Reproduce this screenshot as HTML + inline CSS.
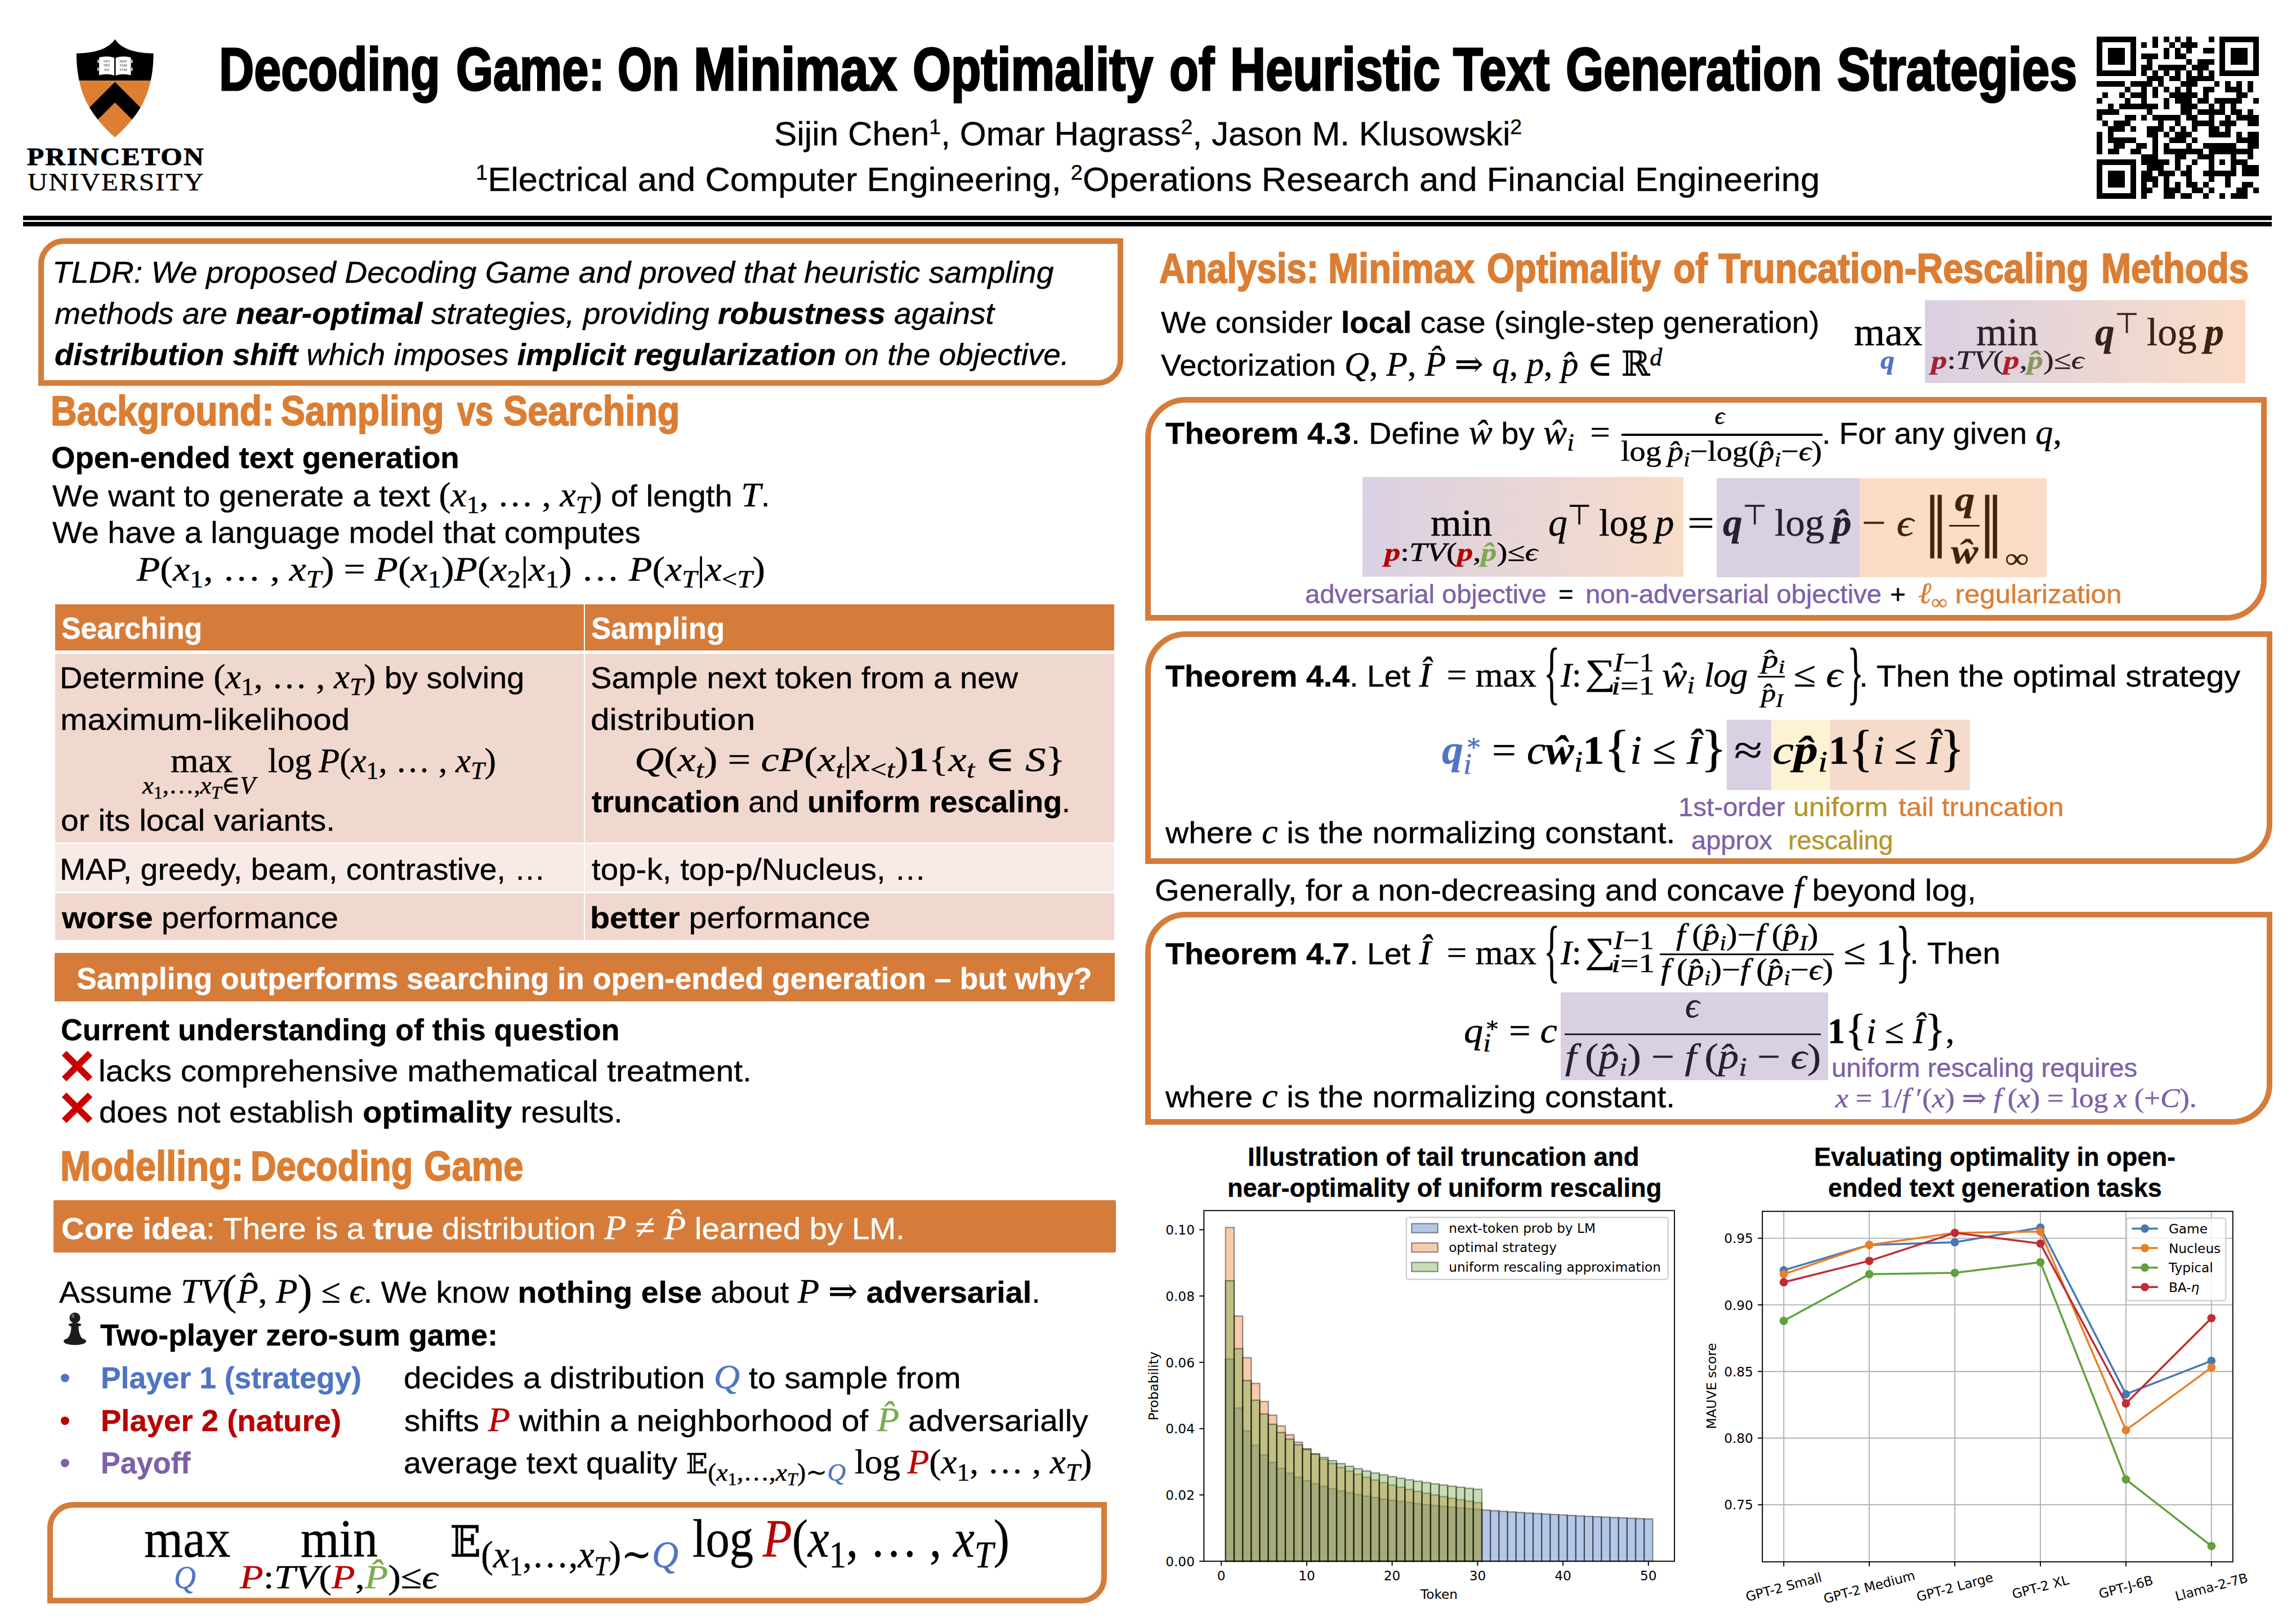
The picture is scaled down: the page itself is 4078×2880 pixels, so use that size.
<!DOCTYPE html>
<html lang="en"><head><meta charset="utf-8"><title>Decoding Game poster</title>
<style>
html,body{margin:0;padding:0;background:#fff;}
body{width:4078px;height:2880px;position:relative;overflow:hidden;font-family:"Liberation Sans", sans-serif;color:#000;}
.t{position:absolute;white-space:nowrap;transform-origin:0 0;line-height:1.2;}
.bm{display:inline-block;width:0;height:0;}
.m{font-family:"Liberation Serif", "DejaVu Serif", "DejaVu Math TeX Gyre", "DejaVu Sans", serif;font-style:italic;}
.r{font-family:"Liberation Serif", "DejaVu Serif", "DejaVu Math TeX Gyre", "DejaVu Sans", serif;font-style:normal;}
.ri{font-family:"Liberation Serif", "DejaVu Serif", "DejaVu Math TeX Gyre", "DejaVu Sans", serif;font-style:normal;font-size:113%;}
.r,.ri{-webkit-text-stroke:0.5px;}
.s{font-family:"Liberation Sans", sans-serif;font-style:normal;}
.sb{font-size:72%;position:relative;top:0.28em;}
.sp{font-size:72%;position:relative;top:-0.42em;}
b{font-weight:bold;}
.fsans{font-family:"Liberation Sans", sans-serif;-webkit-text-stroke:0.4px;}
.fserif{font-family:"Liberation Serif", "DejaVu Serif", "DejaVu Math TeX Gyre", "DejaVu Sans", serif;}
.fdjv{font-family:"DejaVu Sans", sans-serif;}
</style></head><body>
<div style="position:absolute;left:41.0px;top:383.0px;width:3994.0px;height:7.5px;background:#000;"></div>
<div style="position:absolute;left:41.0px;top:394.0px;width:3994.0px;height:7.6px;background:#000;"></div>
<div style="position:absolute;box-sizing:border-box;left:67.5px;top:423.0px;width:1927.5px;height:262.0px;border:10px solid #D57C3B;border-radius:46px 0 46px 0;"></div>
<div style="position:absolute;left:97.8px;top:1073.3px;width:939.0px;height:81.5px;background:#D57C3B;"></div>
<div style="position:absolute;left:1038.8px;top:1073.3px;width:939.9px;height:81.5px;background:#D57C3B;"></div>
<div style="position:absolute;left:97.8px;top:1160.6px;width:939.0px;height:335.0px;background:#F1D8CF;"></div>
<div style="position:absolute;left:1038.8px;top:1160.6px;width:939.9px;height:335.0px;background:#F1D8CF;"></div>
<div style="position:absolute;left:97.8px;top:1498.2px;width:939.0px;height:85.3px;background:#F8EBE7;"></div>
<div style="position:absolute;left:1038.8px;top:1498.2px;width:939.9px;height:85.3px;background:#F8EBE7;"></div>
<div style="position:absolute;left:97.8px;top:1585.7px;width:939.0px;height:83.1px;background:#F1D8CF;"></div>
<div style="position:absolute;left:1038.8px;top:1585.7px;width:939.9px;height:83.1px;background:#F1D8CF;"></div>
<div style="position:absolute;left:96.9px;top:1692.3px;width:1882.7px;height:86.2px;background:#D57C3B;"></div>
<div style="position:absolute;left:94.6px;top:2131.0px;width:1887.6px;height:93.3px;background:#D57C3B;border-radius:3px;"></div>
<div style="position:absolute;box-sizing:border-box;left:83.5px;top:2666.5px;width:1882.7px;height:180.8px;border:10px solid #D57C3B;border-radius:46px 0 46px 0;"></div>
<div style="position:absolute;box-sizing:border-box;left:2033.5px;top:705.0px;width:1992.5px;height:396.5px;border:10px solid #D57C3B;border-radius:72px 0 72px 0;"></div>
<div style="position:absolute;left:2879.9px;top:770.4px;width:356.7px;height:3.2px;background:#000;"></div>
<div style="position:absolute;left:2420.2px;top:847.0px;width:569.8px;height:177.0px;background:linear-gradient(90deg,#D9D0E3,#F8DCC9);"></div>
<div style="position:absolute;left:3462.4px;top:931.6px;width:54.0px;height:3.2px;background:#000;"></div>
<div style="position:absolute;box-sizing:border-box;left:2033.5px;top:1121.0px;width:2002.5px;height:413.3px;border:10px solid #D57C3B;border-radius:72px 0 72px 0;"></div>
<div style="position:absolute;left:3122.0px;top:1199.7px;width:47.6px;height:3.0px;background:#000;"></div>
<div style="position:absolute;left:3067.0px;top:1278.4px;width:78.5px;height:124.4px;background:#D9D0E3;"></div>
<div style="position:absolute;left:3145.5px;top:1278.4px;width:104.7px;height:124.4px;background:#FDF3D4;"></div>
<div style="position:absolute;left:3250.2px;top:1278.4px;width:248.4px;height:124.4px;background:#F6DBCA;"></div>
<div style="position:absolute;box-sizing:border-box;left:2033.5px;top:1618.6px;width:2002.5px;height:378.6px;border:10px solid #D57C3B;border-radius:72px 0 72px 0;"></div>
<div style="position:absolute;left:2948.2px;top:1692.6px;width:309.1px;height:3.1px;background:#000;"></div>
<div style="position:absolute;left:2779.3px;top:1834.5px;width:455.1px;height:3.1px;background:#000;"></div>
<svg style="position:absolute;left:120px;top:60px" width="170" height="200" viewBox="120 60 170 200">
<defs><clipPath id="sh"><path d="M204.2 69.7 Q188 94 135.9 94.8 C135.5 120 140 160 158.5 190 C170 210 190 232 204.2 243.9 C218.4 232 238.4 210 249.9 190 C268.4 160 272.9 120 272.5 94.8 Q220.4 94 204.2 69.7Z"/></clipPath></defs>
<g clip-path="url(#sh)"><rect x="120" y="60" width="170" height="83.2" fill="#000"/><rect x="120" y="143.2" width="170" height="110" fill="#DD7F32"/>
<polygon points="204.2,145.6 124.2,225.6 124.2,261.9 204.2,181.9 284.2,261.9 284.2,225.6" fill="#000"/></g>
<path d="M176 102 Q190 98.5 203 102.5 L203 134 Q190 130 176 133.5Z M232.5 102 Q218.5 98.5 205.5 102.5 L205.5 134 Q218.5 130 232.5 133.5Z" fill="#fff"/>
<path d="M173.3 106h2v6h-2z M173.3 120h2v6h-2z M233.3 106h2v6h-2z M233.3 120h2v6h-2z" fill="#fff"/>
<g font-family="Liberation Serif, serif" font-size="6.2" fill="#111" text-anchor="middle"><text x="189.5" y="110.5">VET</text><text x="189.5" y="118">TES</text><text x="189.5" y="125.5">EN</text><text x="219" y="110.5">NOV</text><text x="219" y="118">TAM</text><text x="219" y="125.5">TVM</text></g>
</svg>
<svg style="position:absolute;left:110px;top:1866.3px" width="54" height="54" viewBox="0 0 54 54"><path d="M4 4L50 50M50 4L4 50" stroke="#C90000" stroke-width="11.5" fill="none"/></svg>
<svg style="position:absolute;left:110px;top:1939.8px" width="54" height="54" viewBox="0 0 54 54"><path d="M4 4L50 50M50 4L4 50" stroke="#C90000" stroke-width="11.5" fill="none"/></svg>
<svg style="position:absolute;left:108px;top:2326px" width="50" height="66" viewBox="108 2326 50 66"><g fill="#1c1c1c"><circle cx="133" cy="2340" r="9.6"/><ellipse cx="133" cy="2352.3" rx="11.5" ry="3.4"/><path d="M126.5 2353H139.5Q138.5 2368 147 2378H119Q127.500 2368 126.500 2353Z"/><ellipse cx="133" cy="2381.500" rx="20" ry="6.8"/></g><ellipse cx="129.500" cy="2336.500" rx="2.6" ry="3.4" fill="#666"/></svg>
<svg style="position:absolute;left:2020px;top:2140px" width="1000" height="740" viewBox="2020 2140 1000 740" font-family="DejaVu Sans, sans-serif" font-size="23.2" fill="#000"><g fill="#4472C4" fill-opacity="0.4" stroke="#000" stroke-opacity="0.4" stroke-width="2.32"><rect x="2176.8" y="2413.1" width="15.2" height="359.0"/><rect x="2192.0" y="2500.1" width="15.2" height="272.0"/><rect x="2207.1" y="2540.8" width="15.2" height="231.3"/><rect x="2222.3" y="2565.9" width="15.2" height="206.2"/><rect x="2237.5" y="2583.5" width="15.2" height="188.6"/><rect x="2252.6" y="2596.8" width="15.2" height="175.3"/><rect x="2267.8" y="2607.3" width="15.2" height="164.8"/><rect x="2283.0" y="2615.8" width="15.2" height="156.3"/><rect x="2298.2" y="2623.0" width="15.2" height="149.1"/><rect x="2313.3" y="2629.2" width="15.2" height="142.9"/><rect x="2328.5" y="2634.5" width="15.2" height="137.6"/><rect x="2343.7" y="2639.2" width="15.2" height="132.9"/><rect x="2358.8" y="2643.4" width="15.2" height="128.7"/><rect x="2374.0" y="2647.2" width="15.2" height="124.9"/><rect x="2389.2" y="2650.6" width="15.2" height="121.5"/><rect x="2404.4" y="2653.7" width="15.2" height="118.4"/><rect x="2419.5" y="2656.5" width="15.2" height="115.6"/><rect x="2434.7" y="2659.1" width="15.2" height="113.0"/><rect x="2449.9" y="2661.6" width="15.2" height="110.5"/><rect x="2465.1" y="2663.8" width="15.2" height="108.3"/><rect x="2480.2" y="2665.9" width="15.2" height="106.2"/><rect x="2495.4" y="2667.8" width="15.2" height="104.3"/><rect x="2510.6" y="2669.7" width="15.2" height="102.4"/><rect x="2525.7" y="2671.4" width="15.2" height="100.7"/><rect x="2540.9" y="2673.0" width="15.2" height="99.1"/><rect x="2556.1" y="2674.6" width="15.2" height="97.5"/><rect x="2571.3" y="2676.0" width="15.2" height="96.1"/><rect x="2586.4" y="2677.4" width="15.2" height="94.7"/><rect x="2601.6" y="2678.8" width="15.2" height="93.3"/><rect x="2616.8" y="2680.0" width="15.2" height="92.1"/><rect x="2631.9" y="2681.2" width="15.2" height="90.9"/><rect x="2647.1" y="2682.4" width="15.2" height="89.7"/><rect x="2662.3" y="2683.5" width="15.2" height="88.6"/><rect x="2677.5" y="2684.5" width="15.2" height="87.6"/><rect x="2692.6" y="2685.5" width="15.2" height="86.6"/><rect x="2707.8" y="2686.5" width="15.2" height="85.6"/><rect x="2723.0" y="2687.4" width="15.2" height="84.7"/><rect x="2738.1" y="2688.3" width="15.2" height="83.8"/><rect x="2753.3" y="2689.2" width="15.2" height="82.9"/><rect x="2768.5" y="2690.0" width="15.2" height="82.1"/><rect x="2783.7" y="2690.8" width="15.2" height="81.3"/><rect x="2798.8" y="2691.6" width="15.2" height="80.5"/><rect x="2814.0" y="2692.4" width="15.2" height="79.7"/><rect x="2829.2" y="2693.1" width="15.2" height="79.0"/><rect x="2844.4" y="2693.8" width="15.2" height="78.3"/><rect x="2859.5" y="2694.5" width="15.2" height="77.6"/><rect x="2874.7" y="2695.1" width="15.2" height="77.0"/><rect x="2889.9" y="2695.8" width="15.2" height="76.3"/><rect x="2905.0" y="2696.4" width="15.2" height="75.7"/><rect x="2920.2" y="2697.0" width="15.2" height="75.1"/></g><g fill="#ED7D31" fill-opacity="0.4" stroke="#000" stroke-opacity="0.4" stroke-width="2.32"><rect x="2176.8" y="2179.5" width="15.2" height="592.6"/><rect x="2192.0" y="2336.8" width="15.2" height="435.3"/><rect x="2207.1" y="2410.7" width="15.2" height="361.4"/><rect x="2222.3" y="2456.4" width="15.2" height="315.7"/><rect x="2237.5" y="2488.5" width="15.2" height="283.6"/><rect x="2252.6" y="2512.7" width="15.2" height="259.4"/><rect x="2267.8" y="2531.9" width="15.2" height="240.2"/><rect x="2283.0" y="2547.6" width="15.2" height="224.5"/><rect x="2298.2" y="2560.8" width="15.2" height="211.3"/><rect x="2313.3" y="2572.2" width="15.2" height="199.9"/><rect x="2328.5" y="2582.1" width="15.2" height="190.0"/><rect x="2343.7" y="2590.8" width="15.2" height="181.3"/><rect x="2358.8" y="2598.5" width="15.2" height="173.6"/><rect x="2374.0" y="2605.5" width="15.2" height="166.6"/><rect x="2389.2" y="2611.9" width="15.2" height="160.2"/><rect x="2404.4" y="2617.7" width="15.2" height="154.4"/><rect x="2419.5" y="2623.0" width="15.2" height="149.1"/><rect x="2434.7" y="2627.9" width="15.2" height="144.2"/><rect x="2449.9" y="2632.5" width="15.2" height="139.6"/><rect x="2465.1" y="2636.8" width="15.2" height="135.3"/><rect x="2480.2" y="2640.7" width="15.2" height="131.4"/><rect x="2495.4" y="2644.5" width="15.2" height="127.6"/><rect x="2510.6" y="2648.0" width="15.2" height="124.1"/><rect x="2525.7" y="2651.3" width="15.2" height="120.8"/><rect x="2540.9" y="2654.4" width="15.2" height="117.7"/><rect x="2556.1" y="2657.4" width="15.2" height="114.7"/><rect x="2571.3" y="2660.2" width="15.2" height="111.9"/><rect x="2586.4" y="2662.9" width="15.2" height="109.2"/><rect x="2601.6" y="2665.5" width="15.2" height="106.6"/><rect x="2616.8" y="2668.0" width="15.2" height="104.1"/></g><g fill="#70AD47" fill-opacity="0.4" stroke="#000" stroke-opacity="0.4" stroke-width="2.32"><rect x="2176.8" y="2274.1" width="15.2" height="498.0"/><rect x="2192.0" y="2394.7" width="15.2" height="377.4"/><rect x="2207.1" y="2451.2" width="15.2" height="320.9"/><rect x="2222.3" y="2486.1" width="15.2" height="286.0"/><rect x="2237.5" y="2510.5" width="15.2" height="261.6"/><rect x="2252.6" y="2528.9" width="15.2" height="243.2"/><rect x="2267.8" y="2543.5" width="15.2" height="228.6"/><rect x="2283.0" y="2555.3" width="15.2" height="216.8"/><rect x="2298.2" y="2565.3" width="15.2" height="206.8"/><rect x="2313.3" y="2573.9" width="15.2" height="198.2"/><rect x="2328.5" y="2581.3" width="15.2" height="190.8"/><rect x="2343.7" y="2587.8" width="15.2" height="184.3"/><rect x="2358.8" y="2593.6" width="15.2" height="178.5"/><rect x="2374.0" y="2598.8" width="15.2" height="173.3"/><rect x="2389.2" y="2603.5" width="15.2" height="168.6"/><rect x="2404.4" y="2607.8" width="15.2" height="164.3"/><rect x="2419.5" y="2611.8" width="15.2" height="160.3"/><rect x="2434.7" y="2615.4" width="15.2" height="156.7"/><rect x="2449.9" y="2618.7" width="15.2" height="153.4"/><rect x="2465.1" y="2621.9" width="15.2" height="150.2"/><rect x="2480.2" y="2624.8" width="15.2" height="147.3"/><rect x="2495.4" y="2627.5" width="15.2" height="144.6"/><rect x="2510.6" y="2630.0" width="15.2" height="142.1"/><rect x="2525.7" y="2632.4" width="15.2" height="139.7"/><rect x="2540.9" y="2634.7" width="15.2" height="137.4"/><rect x="2556.1" y="2636.8" width="15.2" height="135.3"/><rect x="2571.3" y="2638.9" width="15.2" height="133.2"/><rect x="2586.4" y="2640.8" width="15.2" height="131.3"/><rect x="2601.6" y="2642.6" width="15.2" height="129.5"/><rect x="2616.8" y="2644.4" width="15.2" height="127.7"/></g><rect x="2138.3" y="2149.5" width="835.7" height="622.6" fill="none" stroke="#000" stroke-width="1.9"/><path d="M2169.2 2772.1v8.1" stroke="#000" stroke-width="1.9"/><text x="2169.2" y="2805.5" text-anchor="middle">0</text><path d="M2320.9 2772.1v8.1" stroke="#000" stroke-width="1.9"/><text x="2320.9" y="2805.5" text-anchor="middle">10</text><path d="M2472.6 2772.1v8.1" stroke="#000" stroke-width="1.9"/><text x="2472.6" y="2805.5" text-anchor="middle">20</text><path d="M2624.4 2772.1v8.1" stroke="#000" stroke-width="1.9"/><text x="2624.4" y="2805.5" text-anchor="middle">30</text><path d="M2776.1 2772.1v8.1" stroke="#000" stroke-width="1.9"/><text x="2776.1" y="2805.5" text-anchor="middle">40</text><path d="M2927.8 2772.1v8.1" stroke="#000" stroke-width="1.9"/><text x="2927.8" y="2805.5" text-anchor="middle">50</text><path d="M2138.3 2772.1h-8.1" stroke="#000" stroke-width="1.9"/><text x="2121.9" y="2780.7" text-anchor="end">0.00</text><path d="M2138.3 2654.4h-8.1" stroke="#000" stroke-width="1.9"/><text x="2121.9" y="2663.0" text-anchor="end">0.02</text><path d="M2138.3 2536.7h-8.1" stroke="#000" stroke-width="1.9"/><text x="2121.9" y="2545.3" text-anchor="end">0.04</text><path d="M2138.3 2418.9h-8.1" stroke="#000" stroke-width="1.9"/><text x="2121.9" y="2427.5" text-anchor="end">0.06</text><path d="M2138.3 2301.2h-8.1" stroke="#000" stroke-width="1.9"/><text x="2121.9" y="2309.8" text-anchor="end">0.08</text><path d="M2138.3 2183.5h-8.1" stroke="#000" stroke-width="1.9"/><text x="2121.9" y="2192.1" text-anchor="end">0.10</text><text x="2556" y="2838.5" text-anchor="middle">Token</text><text transform="translate(2056.5 2461) rotate(-90)" text-anchor="middle">Probability</text><rect x="2497.8" y="2161.6" width="464.9" height="110" rx="4.6" fill="#fff" fill-opacity="0.8" stroke="#ccc" stroke-width="2.3"/><rect x="2507.3" y="2172.6" width="46.4" height="16.2" fill="#4472C4" fill-opacity="0.4" stroke="#000" stroke-opacity="0.4" stroke-width="2.32"/><text x="2573.2" y="2188.8">next-token prob by LM</text><rect x="2507.3" y="2207.0" width="46.4" height="16.2" fill="#ED7D31" fill-opacity="0.4" stroke="#000" stroke-opacity="0.4" stroke-width="2.32"/><text x="2573.2" y="2223.2">optimal strategy</text><rect x="2507.3" y="2241.5" width="46.4" height="16.2" fill="#70AD47" fill-opacity="0.4" stroke="#000" stroke-opacity="0.4" stroke-width="2.32"/><text x="2573.2" y="2257.7">uniform rescaling approximation</text></svg>
<svg style="position:absolute;left:3000px;top:2140px" width="1078" height="740" viewBox="3000 2140 1078 740" font-family="DejaVu Sans, sans-serif" font-size="23.2" fill="#000"><path d="M3168.2 2150.8V2773.2" stroke="#b0b0b0" stroke-width="1.9"/><path d="M3320.1 2150.8V2773.2" stroke="#b0b0b0" stroke-width="1.9"/><path d="M3472.0 2150.8V2773.2" stroke="#b0b0b0" stroke-width="1.9"/><path d="M3624.0 2150.8V2773.2" stroke="#b0b0b0" stroke-width="1.9"/><path d="M3775.9 2150.8V2773.2" stroke="#b0b0b0" stroke-width="1.9"/><path d="M3927.8 2150.8V2773.2" stroke="#b0b0b0" stroke-width="1.9"/><path d="M3130.2 2671.8H3965.8" stroke="#b0b0b0" stroke-width="1.9"/><path d="M3130.2 2553.5H3965.8" stroke="#b0b0b0" stroke-width="1.9"/><path d="M3130.2 2435.2H3965.8" stroke="#b0b0b0" stroke-width="1.9"/><path d="M3130.2 2316.9H3965.8" stroke="#b0b0b0" stroke-width="1.9"/><path d="M3130.2 2198.6H3965.8" stroke="#b0b0b0" stroke-width="1.9"/><polyline points="3168.2,2255.4 3320.1,2210.4 3472.0,2205.7 3624.0,2179.7 3775.9,2475.4 3927.8,2416.3" fill="none" stroke="#4878B4" stroke-width="3.5" stroke-linejoin="round"/><circle cx="3168.2" cy="2255.4" r="7.4" fill="#4878B4"/><circle cx="3320.1" cy="2210.4" r="7.4" fill="#4878B4"/><circle cx="3472.0" cy="2205.7" r="7.4" fill="#4878B4"/><circle cx="3624.0" cy="2179.7" r="7.4" fill="#4878B4"/><circle cx="3775.9" cy="2475.4" r="7.4" fill="#4878B4"/><circle cx="3927.8" cy="2416.3" r="7.4" fill="#4878B4"/><polyline points="3168.2,2262.5 3320.1,2210.4 3472.0,2189.1 3624.0,2186.8 3775.9,2539.3 3927.8,2428.1" fill="none" stroke="#E6802B" stroke-width="3.5" stroke-linejoin="round"/><circle cx="3168.2" cy="2262.5" r="7.4" fill="#E6802B"/><circle cx="3320.1" cy="2210.4" r="7.4" fill="#E6802B"/><circle cx="3472.0" cy="2189.1" r="7.4" fill="#E6802B"/><circle cx="3624.0" cy="2186.8" r="7.4" fill="#E6802B"/><circle cx="3775.9" cy="2539.3" r="7.4" fill="#E6802B"/><circle cx="3927.8" cy="2428.1" r="7.4" fill="#E6802B"/><polyline points="3168.2,2345.3 3320.1,2262.5 3472.0,2260.1 3624.0,2241.2 3775.9,2626.8 3927.8,2745.1" fill="none" stroke="#5FA13C" stroke-width="3.5" stroke-linejoin="round"/><circle cx="3168.2" cy="2345.3" r="7.4" fill="#5FA13C"/><circle cx="3320.1" cy="2262.5" r="7.4" fill="#5FA13C"/><circle cx="3472.0" cy="2260.1" r="7.4" fill="#5FA13C"/><circle cx="3624.0" cy="2241.2" r="7.4" fill="#5FA13C"/><circle cx="3775.9" cy="2626.8" r="7.4" fill="#5FA13C"/><circle cx="3927.8" cy="2745.1" r="7.4" fill="#5FA13C"/><polyline points="3168.2,2276.7 3320.1,2238.8 3472.0,2189.1 3624.0,2208.1 3775.9,2492.0 3927.8,2340.6" fill="none" stroke="#C22B34" stroke-width="3.5" stroke-linejoin="round"/><circle cx="3168.2" cy="2276.7" r="7.4" fill="#C22B34"/><circle cx="3320.1" cy="2238.8" r="7.4" fill="#C22B34"/><circle cx="3472.0" cy="2189.1" r="7.4" fill="#C22B34"/><circle cx="3624.0" cy="2208.1" r="7.4" fill="#C22B34"/><circle cx="3775.9" cy="2492.0" r="7.4" fill="#C22B34"/><circle cx="3927.8" cy="2340.6" r="7.4" fill="#C22B34"/><rect x="3130.2" y="2150.8" width="835.6" height="622.4" fill="none" stroke="#000" stroke-width="1.9"/><path d="M3130.2 2671.8h-8.1" stroke="#000" stroke-width="1.9"/><text x="3113.8" y="2680.4" text-anchor="end">0.75</text><path d="M3130.2 2553.5h-8.1" stroke="#000" stroke-width="1.9"/><text x="3113.8" y="2562.1" text-anchor="end">0.80</text><path d="M3130.2 2435.2h-8.1" stroke="#000" stroke-width="1.9"/><text x="3113.8" y="2443.8" text-anchor="end">0.85</text><path d="M3130.2 2316.9h-8.1" stroke="#000" stroke-width="1.9"/><text x="3113.8" y="2325.5" text-anchor="end">0.90</text><path d="M3130.2 2198.6h-8.1" stroke="#000" stroke-width="1.9"/><text x="3113.8" y="2207.2" text-anchor="end">0.95</text><path d="M3168.2 2773.2v8.1" stroke="#000" stroke-width="1.9"/><text transform="translate(3168.2 2818) rotate(-15)" text-anchor="middle" y="8">GPT-2 Small</text><path d="M3320.1 2773.2v8.1" stroke="#000" stroke-width="1.9"/><text transform="translate(3320.1 2818) rotate(-15)" text-anchor="middle" y="8">GPT-2 Medium</text><path d="M3472.0 2773.2v8.1" stroke="#000" stroke-width="1.9"/><text transform="translate(3472.0 2818) rotate(-15)" text-anchor="middle" y="8">GPT-2 Large</text><path d="M3624.0 2773.2v8.1" stroke="#000" stroke-width="1.9"/><text transform="translate(3624.0 2818) rotate(-15)" text-anchor="middle" y="8">GPT-2 XL</text><path d="M3775.9 2773.2v8.1" stroke="#000" stroke-width="1.9"/><text transform="translate(3775.9 2818) rotate(-15)" text-anchor="middle" y="8">GPT-J-6B</text><path d="M3927.8 2773.2v8.1" stroke="#000" stroke-width="1.9"/><text transform="translate(3927.8 2818) rotate(-15)" text-anchor="middle" y="8">Llama-2-7B</text><text transform="translate(3048 2461) rotate(-90)" text-anchor="middle">MAUVE score</text><rect x="3777" y="2162.8" width="176.3" height="146.5" rx="4.6" fill="#fff" fill-opacity="0.8" stroke="#ccc" stroke-width="2.3"/><path d="M3786.3 2181.5h46.4" stroke="#4878B4" stroke-width="3.5"/><circle cx="3809.5" cy="2181.5" r="7.4" fill="#4878B4"/><text x="3851.9" y="2189.9">Game</text><path d="M3786.3 2216.1h46.4" stroke="#E6802B" stroke-width="3.5"/><circle cx="3809.5" cy="2216.1" r="7.4" fill="#E6802B"/><text x="3851.9" y="2224.5">Nucleus</text><path d="M3786.3 2250.7h46.4" stroke="#5FA13C" stroke-width="3.5"/><circle cx="3809.5" cy="2250.7" r="7.4" fill="#5FA13C"/><text x="3851.9" y="2259.1">Typical</text><path d="M3786.3 2285.3h46.4" stroke="#C22B34" stroke-width="3.5"/><circle cx="3809.5" cy="2285.3" r="7.4" fill="#C22B34"/><text x="3851.9" y="2293.7">BA-<tspan font-style="italic">η</tspan></text></svg>
<svg style="position:absolute;left:3723.5px;top:64.7px" width="288.0" height="288.0" viewBox="0 0 29 29" shape-rendering="crispEdges"><path d="M0 0h7v1h-7zM10 0h1v1h-1zM12 0h1v1h-1zM14 0h1v1h-1zM16 0h1v1h-1zM20 0h1v1h-1zM22 0h7v1h-7zM0 1h1v1h-1zM6 1h1v1h-1zM8 1h1v1h-1zM10 1h1v1h-1zM13 1h1v1h-1zM15 1h3v1h-3zM22 1h1v1h-1zM28 1h1v1h-1zM0 2h1v1h-1zM2 2h3v1h-3zM6 2h1v1h-1zM12 2h1v1h-1zM14 2h1v1h-1zM16 2h1v1h-1zM19 2h2v1h-2zM22 2h1v1h-1zM24 2h3v1h-3zM28 2h1v1h-1zM0 3h1v1h-1zM2 3h3v1h-3zM6 3h1v1h-1zM8 3h3v1h-3zM12 3h1v1h-1zM14 3h2v1h-2zM22 3h1v1h-1zM24 3h3v1h-3zM28 3h1v1h-1zM0 4h1v1h-1zM2 4h3v1h-3zM6 4h1v1h-1zM9 4h1v1h-1zM16 4h1v1h-1zM18 4h3v1h-3zM22 4h1v1h-1zM24 4h3v1h-3zM28 4h1v1h-1zM0 5h1v1h-1zM6 5h1v1h-1zM8 5h2v1h-2zM11 5h5v1h-5zM17 5h3v1h-3zM22 5h1v1h-1zM28 5h1v1h-1zM0 6h7v1h-7zM8 6h1v1h-1zM10 6h1v1h-1zM12 6h1v1h-1zM14 6h1v1h-1zM16 6h1v1h-1zM18 6h1v1h-1zM20 6h1v1h-1zM22 6h7v1h-7zM9 7h3v1h-3zM13 7h2v1h-2zM16 7h5v1h-5zM0 8h5v1h-5zM6 8h4v1h-4zM11 8h1v1h-1zM15 8h3v1h-3zM21 8h1v1h-1zM23 8h1v1h-1zM25 8h1v1h-1zM27 8h1v1h-1zM5 9h1v1h-1zM8 9h1v1h-1zM10 9h1v1h-1zM12 9h1v1h-1zM14 9h1v1h-1zM16 9h1v1h-1zM19 9h2v1h-2zM23 9h3v1h-3zM27 9h1v1h-1zM1 10h1v1h-1zM4 10h1v1h-1zM6 10h3v1h-3zM10 10h1v1h-1zM13 10h5v1h-5zM19 10h1v1h-1zM25 10h2v1h-2zM0 11h1v1h-1zM5 11h1v1h-1zM8 11h1v1h-1zM12 11h1v1h-1zM14 11h3v1h-3zM18 11h2v1h-2zM21 11h5v1h-5zM28 11h1v1h-1zM2 12h1v1h-1zM4 12h7v1h-7zM12 12h1v1h-1zM15 12h3v1h-3zM20 12h1v1h-1zM22 12h1v1h-1zM24 12h1v1h-1zM0 13h4v1h-4zM9 13h1v1h-1zM15 13h2v1h-2zM18 13h5v1h-5zM24 13h2v1h-2zM27 13h1v1h-1zM0 14h1v1h-1zM5 14h2v1h-2zM8 14h1v1h-1zM10 14h5v1h-5zM16 14h2v1h-2zM20 14h1v1h-1zM23 14h1v1h-1zM25 14h4v1h-4zM1 15h1v1h-1zM3 15h3v1h-3zM11 15h1v1h-1zM14 15h1v1h-1zM17 15h4v1h-4zM22 15h3v1h-3zM27 15h2v1h-2zM2 16h3v1h-3zM6 16h1v1h-1zM9 16h3v1h-3zM13 16h1v1h-1zM15 16h1v1h-1zM17 16h1v1h-1zM20 16h2v1h-2zM23 16h1v1h-1zM0 17h1v1h-1zM2 17h1v1h-1zM9 17h2v1h-2zM12 17h1v1h-1zM14 17h3v1h-3zM20 17h4v1h-4zM25 17h1v1h-1zM27 17h2v1h-2zM0 18h1v1h-1zM2 18h5v1h-5zM10 18h1v1h-1zM13 18h3v1h-3zM17 18h1v1h-1zM25 18h4v1h-4zM0 19h1v1h-1zM3 19h2v1h-2zM7 19h2v1h-2zM10 19h1v1h-1zM12 19h1v1h-1zM16 19h1v1h-1zM19 19h6v1h-6zM27 19h2v1h-2zM0 20h1v1h-1zM2 20h2v1h-2zM6 20h2v1h-2zM10 20h1v1h-1zM12 20h7v1h-7zM20 20h8v1h-8zM8 21h3v1h-3zM14 21h2v1h-2zM18 21h3v1h-3zM24 21h1v1h-1zM27 21h1v1h-1zM0 22h7v1h-7zM8 22h5v1h-5zM14 22h1v1h-1zM17 22h1v1h-1zM20 22h1v1h-1zM22 22h1v1h-1zM24 22h3v1h-3zM0 23h1v1h-1zM6 23h1v1h-1zM9 23h3v1h-3zM14 23h1v1h-1zM16 23h1v1h-1zM20 23h1v1h-1zM24 23h1v1h-1zM26 23h3v1h-3zM0 24h1v1h-1zM2 24h3v1h-3zM6 24h1v1h-1zM8 24h2v1h-2zM11 24h3v1h-3zM15 24h2v1h-2zM19 24h6v1h-6zM26 24h3v1h-3zM0 25h1v1h-1zM2 25h3v1h-3zM6 25h1v1h-1zM8 25h3v1h-3zM12 25h1v1h-1zM16 25h1v1h-1zM20 25h1v1h-1zM23 25h1v1h-1zM0 26h1v1h-1zM2 26h3v1h-3zM6 26h1v1h-1zM8 26h1v1h-1zM10 26h1v1h-1zM12 26h1v1h-1zM14 26h1v1h-1zM16 26h2v1h-2zM19 26h1v1h-1zM23 26h1v1h-1zM26 26h2v1h-2zM0 27h1v1h-1zM6 27h1v1h-1zM8 27h2v1h-2zM12 27h3v1h-3zM17 27h2v1h-2zM20 27h1v1h-1zM25 27h2v1h-2zM28 27h1v1h-1zM0 28h7v1h-7zM8 28h1v1h-1zM12 28h2v1h-2zM15 28h2v1h-2zM19 28h1v1h-1zM22 28h1v1h-1zM24 28h3v1h-3z" fill="#000"/></svg>
<div class="t fserif" id="pr1" style="left:48.0px;top:253.0px;font-size:44px;font-weight:bold;letter-spacing:2px;-webkit-text-stroke:0.8px;transform:scaleX(1.1237);">PRINCETON</div>
<div class="t fserif" id="pr2" style="left:49.0px;top:298.0px;font-size:44px;letter-spacing:2px;-webkit-text-stroke:0.5px;transform:scaleX(1.1094);">UNIVERSITY</div>
<div class="t fsans" id="ti0" style="left:388.9px;top:57.6px;font-size:108px;font-weight:bold;-webkit-text-stroke:3.2px #000;transform:scaleX(0.7979);">Decoding</div>
<div class="t fsans" id="ti1" style="left:810.3px;top:57.6px;font-size:108px;font-weight:bold;-webkit-text-stroke:3.2px #000;transform:scaleX(0.7844);">Game:</div>
<div class="t fsans" id="ti2" style="left:1096.5px;top:57.6px;font-size:108px;font-weight:bold;-webkit-text-stroke:3.2px #000;transform:scaleX(0.7284);">On</div>
<div class="t fsans" id="ti3" style="left:1231.6px;top:57.6px;font-size:108px;font-weight:bold;-webkit-text-stroke:3.2px #000;transform:scaleX(0.8350);">Minimax</div>
<div class="t fsans" id="ti4" style="left:1621.0px;top:57.6px;font-size:108px;font-weight:bold;-webkit-text-stroke:3.2px #000;transform:scaleX(0.8086);">Optimality</div>
<div class="t fsans" id="ti5" style="left:2076.6px;top:57.6px;font-size:108px;font-weight:bold;-webkit-text-stroke:3.2px #000;transform:scaleX(0.7829);">of</div>
<div class="t fsans" id="ti6" style="left:2184.6px;top:57.6px;font-size:108px;font-weight:bold;-webkit-text-stroke:3.2px #000;transform:scaleX(0.8068);">Heuristic</div>
<div class="t fsans" id="ti7" style="left:2581.0px;top:57.6px;font-size:108px;font-weight:bold;-webkit-text-stroke:3.2px #000;transform:scaleX(0.8007);">Text</div>
<div class="t fsans" id="ti8" style="left:2780.8px;top:57.6px;font-size:108px;font-weight:bold;-webkit-text-stroke:3.2px #000;transform:scaleX(0.7985);">Generation</div>
<div class="t fsans" id="ti9" style="left:3262.6px;top:57.6px;font-size:108px;font-weight:bold;-webkit-text-stroke:3.2px #000;transform:scaleX(0.8165);">Strategies</div>
<div class="t fsans" id="auth1" style="left:1374.8px;top:201.6px;font-size:60px;transform:scaleX(1.0068);">Sijin Chen<span style="font-size:62%;position:relative;top:-0.52em">1</span>, Omar Hagrass<span style="font-size:62%;position:relative;top:-0.52em">2</span>, Jason M. Klusowski<span style="font-size:62%;position:relative;top:-0.52em">2</span></div>
<div class="t fsans" id="auth2" style="left:845.0px;top:282.5px;font-size:60px;transform:scaleX(1.0248);"><span style="font-size:62%;position:relative;top:-0.52em">1</span>Electrical and Computer Engineering, <span style="font-size:62%;position:relative;top:-0.52em">2</span>Operations Research and Financial Engineering</div>
<div class="t fsans" id="tl1" style="left:93.0px;top:451.3px;font-size:54px;font-style:italic;transform:scaleX(1.0257);">TLDR: We proposed Decoding Game and proved that heuristic sampling</div>
<div class="t fsans" id="tl2" style="left:97.0px;top:524.3px;font-size:54px;font-style:italic;transform:scaleX(1.0222);">methods are <b>near-optimal</b> strategies, providing <b>robustness</b> against</div>
<div class="t fsans" id="tl3" style="left:97.0px;top:597.4px;font-size:54px;font-style:italic;transform:scaleX(1.0144);"><b>distribution shift</b> which imposes <b>implicit regularization</b> on the objective.</div>
<div class="t fsans" id="h1_0" style="left:89.7px;top:684.4px;font-size:75px;font-weight:bold;color:#DB7E33;-webkit-text-stroke:2px;transform:scaleX(0.8574);">Background:</div>
<div class="t fsans" id="h1_1" style="left:499.4px;top:684.4px;font-size:75px;font-weight:bold;color:#DB7E33;-webkit-text-stroke:2px;transform:scaleX(0.8576);">Sampling</div>
<div class="t fsans" id="h1_2" style="left:812.4px;top:684.4px;font-size:75px;font-weight:bold;color:#DB7E33;-webkit-text-stroke:2px;transform:scaleX(0.7671);">vs</div>
<div class="t fsans" id="h1_3" style="left:894.4px;top:684.4px;font-size:75px;font-weight:bold;color:#DB7E33;-webkit-text-stroke:2px;transform:scaleX(0.8644);">Searching</div>
<div class="t fsans" id="b1" style="left:90.8px;top:779.5px;font-size:54px;font-weight:bold;transform:scaleX(1.0105);">Open-ended text generation</div>
<div class="t fsans" id="b2" style="left:92.8px;top:842.0px;font-size:54px;transform:scaleX(1.0410);">We want to generate a text <span class="ri">(<i>x</i><span class="sb">1</span>, … , <i>x</i><span class="sb"><i>T</i></span>)</span> of length <span class="ri"><i>T</i></span>.</div>
<div class="t fsans" id="b3" style="left:92.8px;top:913.4px;font-size:54px;transform:scaleX(1.0336);">We have a language model that computes</div>
<div class="t fserif" id="b4" style="left:243.0px;top:973.0px;font-size:62px;transform:scaleX(1.0923);"><span class="r"><i>P</i>(<i>x</i><span class="sb">1</span>, … , <i>x</i><span class="sb"><i>T</i></span>) = <i>P</i>(<i>x</i><span class="sb">1</span>)<i>P</i>(<i>x</i><span class="sb">2</span>|<i>x</i><span class="sb">1</span>) … <i>P</i>(<i>x</i><span class="sb"><i>T</i></span>|<i>x</i><span class="sb">&lt;<i>T</i></span>)</span></div>
<div class="t fsans" id="th1" style="left:109.0px;top:1083.0px;font-size:54px;font-weight:bold;color:#fff;transform:scaleX(0.9578);">Searching</div>
<div class="t fsans" id="th2" style="left:1050.0px;top:1083.0px;font-size:54px;font-weight:bold;color:#fff;transform:scaleX(0.9755);">Sampling</div>
<div class="t fsans" id="c11" style="left:106.0px;top:1165.0px;font-size:54px;transform:scaleX(1.0345);">Determine <span class="ri">(<i>x</i><span class="sb">1</span>, … , <i>x</i><span class="sb"><i>T</i></span>)</span> by solving</div>
<div class="t fsans" id="c12" style="left:107.0px;top:1244.5px;font-size:54px;transform:scaleX(1.0774);">maximum-likelihood</div>
<div class="t fserif" id="c13a" style="left:303.0px;top:1313.0px;font-size:62px;transform:scaleX(1.0305);"><span class="r">max</span></div>
<div class="t fserif" id="c13b" style="left:253.0px;top:1366.7px;font-size:45px;transform:scaleX(0.9893);"><span class="r"><i>x</i><span class="sb">1</span>,…,<i>x</i><span class="sb"><i>T</i></span>∈<i>V</i></span></div>
<div class="t fserif" id="c13c" style="left:476.2px;top:1313.0px;font-size:62px;transform:scaleX(0.9818);"><span class="r">log <i>P</i>(<i>x</i><span class="sb">1</span>, … , <i>x</i><span class="sb"><i>T</i></span>)</span></div>
<div class="t fsans" id="c14" style="left:108.0px;top:1424.4px;font-size:54px;transform:scaleX(1.0539);">or its local variants.</div>
<div class="t fsans" id="c21" style="left:1049.0px;top:1171.0px;font-size:54px;transform:scaleX(1.0406);">Sample next token from a new</div>
<div class="t fsans" id="c22" style="left:1049.0px;top:1244.5px;font-size:54px;transform:scaleX(1.1194);">distribution</div>
<div class="t fserif" id="c23" style="left:1126.9px;top:1310.7px;font-size:62px;transform:scaleX(1.1690);"><span class="r"><i>Q</i>(<i>x</i><span class="sb"><i>t</i></span>) = <i>cP</i>(<i>x</i><span class="sb"><i>t</i></span>|<i>x</i><span class="sb">&lt;<i>t</i></span>)<b>1</b>{<i>x</i><span class="sb"><i>t</i></span> ∈ <i>S</i>}</span></div>
<div class="t fsans" id="c24" style="left:1051.0px;top:1391.0px;font-size:54px;transform:scaleX(0.9974);"><b>truncation</b> and <b>uniform rescaling</b>.</div>
<div class="t fsans" id="c31" style="left:105.9px;top:1511.0px;font-size:54px;transform:scaleX(1.0254);">MAP, greedy, beam, contrastive, …</div>
<div class="t fsans" id="c32" style="left:1051.0px;top:1511.0px;font-size:54px;transform:scaleX(1.0473);">top-k, top-p/Nucleus, …</div>
<div class="t fsans" id="c41" style="left:110.0px;top:1597.0px;font-size:54px;transform:scaleX(1.0349);"><b>worse</b> performance</div>
<div class="t fsans" id="c42" style="left:1048.0px;top:1597.0px;font-size:54px;transform:scaleX(1.0638);"><b>better</b> performance</div>
<div class="t fsans" id="bn" style="left:136.4px;top:1705.2px;font-size:54px;font-weight:bold;color:#fff;transform:scaleX(0.9919);">Sampling outperforms searching in open-ended generation – but why?</div>
<div class="t fsans" id="cu" style="left:108.0px;top:1796.0px;font-size:54px;font-weight:bold;transform:scaleX(0.9905);">Current understanding of this question</div>
<div class="t fsans" id="x1" style="left:175.2px;top:1869.2px;font-size:54px;transform:scaleX(1.0559);">lacks comprehensive mathematical treatment.</div>
<div class="t fsans" id="x2" style="left:176.2px;top:1942.3px;font-size:54px;transform:scaleX(1.0396);">does not establish <b>optimality</b> results.</div>
<div class="t fsans" id="h2_0" style="left:107.3px;top:2024.5px;font-size:75px;font-weight:bold;color:#DB7E33;-webkit-text-stroke:2px;transform:scaleX(0.8678);">Modelling:</div>
<div class="t fsans" id="h2_1" style="left:445.3px;top:2024.5px;font-size:75px;font-weight:bold;color:#DB7E33;-webkit-text-stroke:2px;transform:scaleX(0.8439);">Decoding</div>
<div class="t fsans" id="h2_2" style="left:752.6px;top:2024.5px;font-size:75px;font-weight:bold;color:#DB7E33;-webkit-text-stroke:2px;transform:scaleX(0.8475);">Game</div>
<div class="t fsans" id="core" style="left:109.0px;top:2142.9px;font-size:54px;color:#fff;transform:scaleX(1.0445);"><b>Core idea</b>: There is a <b>true</b> distribution <span class="ri"><i>P</i> ≠ <i>P̂</i></span> learned by LM.</div>
<div class="t fsans" id="as" style="left:104.8px;top:2242.0px;font-size:54px;transform:scaleX(1.0287);">Assume <span class="ri"><i>TV</i><span style="font-size:125%"><span style="position:relative;top:0.04em">(</span></span><i>P̂</i>, <i>P</i><span style="font-size:125%"><span style="position:relative;top:0.04em">)</span></span> ≤ <i>ϵ</i></span>. We know <b>nothing else</b> about <span class="ri"><i>P</i> ⇒</span> <b>adversarial</b>.</div>
<div class="t fsans" id="tp" style="left:178.2px;top:2337.8px;font-size:54px;font-weight:bold;transform:scaleX(0.9942);">Two-player zero-sum game:</div>
<div class="t fsans" id="bu0" style="left:106.0px;top:2414.3px;font-size:54px;color:#4F74C4;">•</div>
<div class="t fsans" id="pl0" style="left:178.6px;top:2414.3px;font-size:54px;font-weight:bold;color:#4F74C4;transform:scaleX(0.9890);">Player 1 (strategy)</div>
<div class="t fsans" id="pd0" style="left:717.4px;top:2408.3px;font-size:54px;transform:scaleX(1.0545);">decides a distribution <span class="ri"><span style="color:#4F74C4"><i>Q</i></span></span> to sample from</div>
<div class="t fsans" id="bu1" style="left:106.0px;top:2490.2px;font-size:54px;color:#B80000;">•</div>
<div class="t fsans" id="pl1" style="left:178.6px;top:2490.2px;font-size:54px;font-weight:bold;color:#B80000;transform:scaleX(1.0092);">Player 2 (nature)</div>
<div class="t fsans" id="pd1" style="left:718.4px;top:2484.2px;font-size:54px;transform:scaleX(1.0542);">shifts <span class="ri"><span style="color:#B80000"><i>P</i></span></span> within a neighborhood of <span class="ri"><span style="color:#7DAA4F"><i>P̂</i></span></span> adversarially</div>
<div class="t fsans" id="bu2" style="left:106.0px;top:2565.3px;font-size:54px;color:#7E60A8;">•</div>
<div class="t fsans" id="pl2" style="left:178.6px;top:2565.3px;font-size:54px;font-weight:bold;color:#7E60A8;transform:scaleX(0.9660);">Payoff</div>
<div class="t fsans" id="pd2" style="left:717.4px;top:2559.3px;font-size:54px;transform:scaleX(1.0378);">average text quality <span class="ri"><span style="font-size:80%">𝔼</span><span class="sb">(<i>x</i><span class="sb">1</span>,…,<i>x</i><span class="sb"><i>T</i></span>)∼<span style="color:#4F74C4"><i>Q</i></span></span> log <span style="color:#B80000"><i>P</i></span>(<i>x</i><span class="sb">1</span>, … , <i>x</i><span class="sb"><i>T</i></span>)</span></div>
<div class="t fserif" id="g1" style="left:255.6px;top:2675.2px;font-size:95px;transform:scaleX(0.9368);"><span class="r">max</span></div>
<div class="t fserif" id="g1s" style="left:308.9px;top:2766.8px;font-size:57px;transform:scaleX(0.9465);"><span class="r"><span style="color:#4F74C4"><i>Q</i></span></span></div>
<div class="t fserif" id="g2" style="left:533.8px;top:2675.2px;font-size:95px;transform:scaleX(0.9284);"><span class="r">min</span></div>
<div class="t fserif" id="g2s" style="left:425.6px;top:2763.8px;font-size:60px;transform:scaleX(1.1369);"><span class="r"><span style="color:#B80000"><i>P</i></span>:<i>TV</i>(<span style="color:#B80000"><i>P</i></span>,<span style="color:#7DAA4F"><i>P̂</i></span>)≤<i>ϵ</i></span></div>
<div class="t fserif" id="g3" style="left:798.8px;top:2675.2px;font-size:95px;transform:scaleX(0.9542);"><span class="r"><span style="font-size:80%">𝔼</span><span class="sb">(<i>x</i><span class="sb">1</span>,…,<i>x</i><span class="sb"><i>T</i></span>)∼<span style="color:#4F74C4"><i>Q</i></span></span></span></div>
<div class="t fserif" id="g4" style="left:1230.0px;top:2675.2px;font-size:95px;transform:scaleX(0.8905);"><span class="r">log <span style="color:#B80000"><i>P</i></span>(<i>x</i><span class="sb">1</span>, … , <i>x</i><span class="sb"><i>T</i></span>)</span></div>
<div class="t fsans" id="h3_0" style="left:2059.2px;top:430.9px;font-size:75px;font-weight:bold;color:#DB7E33;-webkit-text-stroke:2px;transform:scaleX(0.8483);">Analysis:</div>
<div class="t fsans" id="h3_1" style="left:2358.8px;top:430.9px;font-size:75px;font-weight:bold;color:#DB7E33;-webkit-text-stroke:2px;transform:scaleX(0.8658);">Minimax</div>
<div class="t fsans" id="h3_2" style="left:2641.4px;top:430.9px;font-size:75px;font-weight:bold;color:#DB7E33;-webkit-text-stroke:2px;transform:scaleX(0.8420);">Optimality</div>
<div class="t fsans" id="h3_3" style="left:2972.4px;top:430.9px;font-size:75px;font-weight:bold;color:#DB7E33;-webkit-text-stroke:2px;transform:scaleX(0.8561);">of</div>
<div class="t fsans" id="h3_4" style="left:3051.8px;top:430.9px;font-size:75px;font-weight:bold;color:#DB7E33;-webkit-text-stroke:2px;transform:scaleX(0.8628);">Truncation-Rescaling</div>
<div class="t fsans" id="h3_5" style="left:3732.3px;top:430.9px;font-size:75px;font-weight:bold;color:#DB7E33;-webkit-text-stroke:2px;transform:scaleX(0.8501);">Methods</div>
<div class="t fsans" id="r1" style="left:2061.6px;top:539.7px;font-size:54px;transform:scaleX(1.0183);">We consider <b>local</b> case (single-step generation)</div>
<div class="t fsans" id="r2" style="left:2061.6px;top:610.0px;font-size:54px;transform:scaleX(1.0045);">Vectorization <span class="ri"><i>Q</i>, <i>P</i>, <i>P̂</i> ⇒ <i>q</i>, <i>p</i>, <i>p̂</i> ∈ ℝ<span class="sp"><i>d</i></span></span></div>
<div class="t fserif" id="mx" style="left:3293.0px;top:547.5px;font-size:70px;transform:scaleX(1.0091);"><span class="r">max</span></div>
<div class="t fserif" id="mxq" style="left:3340.2px;top:612.4px;font-size:46px;transform:scaleX(1.0888);"><span class="r"><span style="color:#4F74C4"><b><i>q</i></b></span></span></div>
<div class="t fserif" id="mn" style="left:3510.0px;top:547.5px;font-size:70px;transform:scaleX(1.0102);"><span class="r">min</span></div>
<div class="t fserif" id="mns" style="left:3429.9px;top:611.4px;font-size:47px;transform:scaleX(1.2002);"><span class="r"><span style="color:#B80000"><b><i>p</i></b></span>:<i>TV</i>(<span style="color:#B80000"><b><i>p</i></b></span>,<span style="color:#7DAA4F"><b><i>p̂</i></b></span>)≤<i>ϵ</i></span></div>
<div class="t fserif" id="qlp" style="left:3721.4px;top:547.5px;font-size:70px;transform:scaleX(0.9893);"><span class="r"><b><i>q</i></b><span class="sp"><span class="s">⊤</span></span> log <b><i>p</i></b></span></div>
<div class="t fsans" id="t43a" style="left:2070.0px;top:731.0px;font-size:54px;transform:scaleX(1.0371);"><b>Theorem 4.3</b>. Define <span class="ri"><i>ŵ</i></span> by <span class="ri"><i>ŵ</i><span class="sb"><i>i</i></span>  =</span></div>
<div class="t fserif" id="t43n" style="left:3045.5px;top:712.7px;font-size:44px;"><span class="r"><i>ϵ</i></span></div>
<div class="t fserif" id="t43d" style="left:2879.0px;top:771.2px;font-size:50px;transform:scaleX(1.1238);"><span class="r">log <i>p̂</i><span class="sb"><i>i</i></span>−log(<i>p̂</i><span class="sb"><i>i</i></span>−<i>ϵ</i>)</span></div>
<div class="t fsans" id="t43e" style="left:3235.9px;top:731.0px;font-size:54px;transform:scaleX(1.0191);">. For any given <span class="ri"><i>q</i>,</span></div>
<div class="t fserif" id="a_min" style="left:2541.4px;top:888.2px;font-size:68px;transform:scaleX(1.0324);"><span class="r">min</span></div>
<div class="t fserif" id="a_sub" style="left:2459.3px;top:952.0px;font-size:47px;transform:scaleX(1.2038);"><span class="r"><span style="color:#B80000"><b><i>p</i></b></span>:<i>TV</i>(<span style="color:#B80000"><b><i>p</i></b></span>,<span style="color:#7DAA4F"><b><i>p̂</i></b></span>)≤<i>ϵ</i></span></div>
<div class="t fserif" id="a_qlp" style="left:2749.6px;top:888.2px;font-size:68px;transform:scaleX(0.9926);"><span class="r"><i>q</i><span class="sp"><span class="s">⊤</span></span> log <i>p</i></span></div>
<div class="t fserif" id="a_eq" style="left:2996.5px;top:888.2px;font-size:68px;transform:scaleX(1.2521);"><span class="r">=</span></div>
<div class="t fserif" id="a_qlph" style="left:3060.0px;top:888.2px;font-size:68px;transform:scaleX(1.0155);"><span class="r"><b><i>q</i></b><span class="sp"><span class="s">⊤</span></span> log <b><i>p̂</i></b></span></div>
<div class="t fserif" id="a_me" style="left:3306.8px;top:888.2px;font-size:68px;transform:scaleX(1.1116);"><span class="r">− <i>ϵ</i></span></div>
<div class="t fserif" id="a_n1" style="left:3420.1px;top:842.1px;font-size:70px;transform:scale(1.8875,2.2900);"><span class="r">‖</span></div>
<div class="t fserif" id="a_fq" style="left:3471.6px;top:848.6px;font-size:62px;transform:scaleX(1.1433);"><span class="r"><b><i>q</i></b></span></div>
<div class="t fserif" id="a_fw" style="left:3466.0px;top:941.5px;font-size:62px;transform:scaleX(1.1610);"><span class="r"><b><i>ŵ</i></b></span></div>
<div class="t fserif" id="a_n2" style="left:3517.4px;top:842.1px;font-size:70px;transform:scale(1.9780,2.2900);"><span class="r">‖</span></div>
<div class="t fserif" id="a_inf" style="left:3560.6px;top:960.5px;font-size:50px;transform:scaleX(1.1939);"><span class="r">∞</span></div>
<div class="t fsans" id="cp1" style="left:2318.2px;top:1027.0px;font-size:47px;color:#7E60A8;transform:scaleX(1.0004);">adversarial objective</div>
<div class="t fsans" id="cp2" style="left:2767.6px;top:1027.0px;font-size:47px;transform:scaleX(0.9706);">=</div>
<div class="t fsans" id="cp3" style="left:2816.0px;top:1027.0px;font-size:47px;color:#7E60A8;transform:scaleX(1.0064);">non-adversarial objective</div>
<div class="t fsans" id="cp4" style="left:3356.6px;top:1027.0px;font-size:47px;transform:scaleX(1.0144);">+</div>
<div class="t fsans" id="cp5" style="left:3407.0px;top:1022.0px;font-size:47px;color:#DB7E33;transform:scaleX(1.0489);"><span class="ri"><i>ℓ</i><span class="sb">∞</span></span> regularization</div>
<div class="t fsans" id="t44a" style="left:2070.0px;top:1161.5px;font-size:54px;transform:scaleX(1.0282);"><b>Theorem 4.4</b>. Let <span class="ri"><i>Î</i>  = max</span></div>
<div class="t fserif" id="t44lb" style="left:2742.1px;top:1121.0px;font-size:80px;transform:scale(0.7426,1.5300);"><span class="r">{</span></div>
<div class="t fserif" id="t44b" style="left:2771.7px;top:1160.5px;font-size:62px;transform:scaleX(0.9638);"><span class="r"><i>I</i>:</span></div>
<div class="t fserif" id="t44s" style="left:2814.5px;top:1156.0px;font-size:64px;transform:scaleX(1.1892);"><span class="r">∑</span></div>
<div class="t fserif" id="t44u" style="left:2866.0px;top:1149.0px;font-size:46px;transform:scaleX(1.1142);"><span class="r"><i>I</i>−1</span></div>
<div class="t fserif" id="t44l" style="left:2861.7px;top:1190.4px;font-size:46px;transform:scaleX(1.2508);"><span class="r"><i>i</i>=1</span></div>
<div class="t fserif" id="t44w" style="left:2951.6px;top:1160.5px;font-size:62px;transform:scaleX(1.0763);"><span class="r"><i>ŵ</i><span class="sb"><i>i</i></span></span></div>
<div class="t fserif" id="t44g" style="left:3026.8px;top:1160.5px;font-size:62px;letter-spacing:-0.878px;"><span class="r"><i>log</i></span></div>
<div class="t fserif" id="t44fn" style="left:3128.5px;top:1141.5px;font-size:47px;transform:scaleX(1.2594);"><span class="r"><i>p̂</i><span class="sb"><i>i</i></span></span></div>
<div class="t fserif" id="t44fd" style="left:3128.2px;top:1201.5px;font-size:47px;transform:scaleX(1.1219);"><span class="r"><i>p̂</i><span class="sb"><i>I</i></span></span></div>
<div class="t fserif" id="t44c" style="left:3185.4px;top:1159.5px;font-size:64px;transform:scaleX(1.1391);"><span class="r">≤ <i>ϵ</i></span></div>
<div class="t fserif" id="t44rb" style="left:3281.4px;top:1121.0px;font-size:80px;transform:scale(0.7507,1.5300);"><span class="r">}</span></div>
<div class="t fsans" id="t44d" style="left:3302.0px;top:1167.5px;font-size:54px;transform:scaleX(1.0606);">. Then the optimal strategy</div>
<div class="t fserif" id="t44q" style="left:2561.0px;top:1271.7px;font-size:72px;transform:scaleX(1.0551);"><span class="r"><span style="color:#4F74C4"><b><i>q</i></b><span style="display:inline-block;width:0.42em;position:relative;height:0.1em"><span style="position:absolute;left:0.08em;bottom:0.36em;font-size:58%;line-height:1">∗</span><span style="position:absolute;left:0;bottom:-0.52em;font-size:72%;line-height:1"><i>i</i></span></span></span> = <i>c</i><b><i>ŵ</i></b><span class="sb"><i>i</i></span><b>1</b><span style="font-size:125%"><span style="position:relative;top:0.04em">{</span></span><i>i</i> ≤ <i>Î</i><span style="font-size:125%"><span style="position:relative;top:0.04em">}</span></span></span></div>
<div class="t fserif" id="t44ap" style="left:3079.8px;top:1288.7px;font-size:72px;transform:scaleX(1.2698);"><span class="r">≈</span></div>
<div class="t fserif" id="t44cp" style="left:3147.9px;top:1288.7px;font-size:72px;transform:scaleX(1.1918);"><span class="r"><i>c</i><b><i>p̂</i></b><span class="sb"><i>i</i></span></span></div>
<div class="t fserif" id="t44i" style="left:3247.7px;top:1271.7px;font-size:72px;transform:scaleX(0.9951);"><span class="r"><b>1</b><span style="font-size:125%"><span style="position:relative;top:0.04em">{</span></span><i>i</i> ≤ <i>Î</i><span style="font-size:125%"><span style="position:relative;top:0.04em">}</span></span></span></div>
<div class="t fsans" id="l1" style="left:2981.1px;top:1405.0px;font-size:47px;color:#7E60A8;transform:scaleX(1.0083);">1st-order</div>
<div class="t fsans" id="l2" style="left:3184.5px;top:1405.0px;font-size:47px;color:#B4962A;transform:scaleX(1.0733);">uniform</div>
<div class="t fsans" id="l3" style="left:3371.6px;top:1405.0px;font-size:47px;color:#DB7E33;transform:scaleX(1.0497);">tail truncation</div>
<div class="t fsans" id="l4" style="left:3004.0px;top:1463.5px;font-size:47px;color:#7E60A8;transform:scaleX(1.0007);">approx</div>
<div class="t fsans" id="l5" style="left:3175.7px;top:1463.5px;font-size:47px;color:#B4962A;transform:scaleX(0.9909);">rescaling</div>
<div class="t fsans" id="t44w2" style="left:2070.0px;top:1440.0px;font-size:54px;transform:scaleX(1.0546);">where <span class="ri"><i>c</i></span> is the normalizing constant.</div>
<div class="t fsans" id="gen" style="left:2050.6px;top:1541.5px;font-size:54px;transform:scaleX(1.0421);">Generally, for a non-decreasing and concave <span class="ri"><i>f</i></span> beyond log,</div>
<div class="t fsans" id="t47a" style="left:2070.0px;top:1655.0px;font-size:54px;transform:scaleX(1.0282);"><b>Theorem 4.7</b>. Let <span class="ri"><i>Î</i>  = max</span></div>
<div class="t fserif" id="t47lb" style="left:2742.1px;top:1615.0px;font-size:80px;transform:scale(0.7426,1.5300);"><span class="r">{</span></div>
<div class="t fserif" id="t47b" style="left:2771.7px;top:1654.0px;font-size:62px;transform:scaleX(0.9638);"><span class="r"><i>I</i>:</span></div>
<div class="t fserif" id="t47s" style="left:2814.5px;top:1649.5px;font-size:64px;transform:scaleX(1.1892);"><span class="r">∑</span></div>
<div class="t fserif" id="t47u" style="left:2866.0px;top:1642.0px;font-size:46px;transform:scaleX(1.1142);"><span class="r"><i>I</i>−1</span></div>
<div class="t fserif" id="t47l" style="left:2861.7px;top:1683.4px;font-size:46px;transform:scaleX(1.2508);"><span class="r"><i>i</i>=1</span></div>
<div class="t fserif" id="t47fn" style="left:2977.4px;top:1628.7px;font-size:52px;transform:scaleX(1.1316);"><span class="r"><i>f</i> (<i>p̂</i><span class="sb"><i>i</i></span>)−<i>f</i> (<i>p̂</i><span class="sb"><i>I</i></span>)</span></div>
<div class="t fserif" id="t47fd" style="left:2950.0px;top:1690.8px;font-size:52px;transform:scaleX(1.1273);"><span class="r"><i>f</i> (<i>p̂</i><span class="sb"><i>i</i></span>)−<i>f</i> (<i>p̂</i><span class="sb"><i>i</i></span>−<i>ϵ</i>)</span></div>
<div class="t fserif" id="t47c" style="left:3273.7px;top:1653.0px;font-size:64px;transform:scaleX(1.1330);"><span class="r">≤ 1</span></div>
<div class="t fserif" id="t47rb" style="left:3366.7px;top:1615.0px;font-size:80px;transform:scale(0.8335,1.5300);"><span class="r">}</span></div>
<div class="t fsans" id="t47d" style="left:3391.7px;top:1660.0px;font-size:54px;transform:scaleX(1.0589);">. Then</div>
<div class="t fserif" id="t47q" style="left:2599.8px;top:1793.4px;font-size:63px;transform:scaleX(1.0842);"><span class="r"><i>q</i><span style="display:inline-block;width:0.42em;position:relative;height:0.1em"><span style="position:absolute;left:0.08em;bottom:0.36em;font-size:58%;line-height:1">∗</span><span style="position:absolute;left:0;bottom:-0.52em;font-size:72%;line-height:1"><i>i</i></span></span> = <i>c</i></span></div>
<div class="t fserif" id="t47n" style="left:2993.0px;top:1747.9px;font-size:63px;"><span class="r"><i>ϵ</i></span></div>
<div class="t fserif" id="t47dn" style="left:2779.6px;top:1838.9px;font-size:63px;transform:scaleX(1.1596);"><span class="r"><i>f</i> (<i>p̂</i><span class="sb"><i>i</i></span>) − <i>f</i> (<i>p̂</i><span class="sb"><i>i</i></span> − <i>ϵ</i>)</span></div>
<div class="t fserif" id="t47i" style="left:3245.9px;top:1779.0px;font-size:63px;transform:scaleX(0.9902);"><span class="r"><b>1</b><span style="font-size:125%"><span style="position:relative;top:0.04em">{</span></span><i>i</i> ≤ <i>Î</i><span style="font-size:125%"><span style="position:relative;top:0.04em">}</span></span>,</span></div>
<div class="t fsans" id="t47p1" style="left:3252.8px;top:1868.0px;font-size:47px;color:#7E60A8;transform:scaleX(1.0043);">uniform rescaling requires</div>
<div class="t fserif" id="t47p2" style="left:3260.2px;top:1921.0px;font-size:48px;color:#7E60A8;transform:scaleX(1.0781);"><span class="r"><i>x</i> = 1/<i>f</i> ′(<i>x</i>) ⇒ <i>f</i> (<i>x</i>) = log <i>x</i> (+<i>C</i>).</span></div>
<div class="t fsans" id="t47w" style="left:2070.0px;top:1909.4px;font-size:54px;transform:scaleX(1.0542);">where <span class="ri"><i>c</i></span> is the normalizing constant.</div>
<div class="t fsans" id="ct1a" style="left:2216.4px;top:2025.5px;font-size:47px;font-weight:bold;transform:scaleX(0.9685);">Illustration of tail truncation and</div>
<div class="t fsans" id="ct1b" style="left:2179.6px;top:2081.3px;font-size:47px;font-weight:bold;transform:scaleX(0.9620);">near-optimality of uniform rescaling</div>
<div class="t fsans" id="ct2a" style="left:3222.4px;top:2025.5px;font-size:47px;font-weight:bold;transform:scaleX(0.9604);">Evaluating optimality in open-</div>
<div class="t fsans" id="ct2b" style="left:3247.0px;top:2081.3px;font-size:47px;font-weight:bold;transform:scaleX(0.9533);">ended text generation tasks</div>
<div style="position:absolute;left:3418.8px;top:533.4px;width:569.7px;height:146.9px;background:linear-gradient(90deg, rgba(128,100,162,0.30), rgba(237,125,49,0.27));"></div>
<div style="position:absolute;left:3049.3px;top:849.3px;width:253.5px;height:175.6px;background:rgba(128,100,162,0.30);"></div>
<div style="position:absolute;left:3302.8px;top:849.3px;width:331.9px;height:175.6px;background:rgba(237,125,49,0.27);"></div>
<div style="position:absolute;left:2771.8px;top:1761.6px;width:475.7px;height:156.2px;background:rgba(128,100,162,0.30);"></div>
</body></html>
